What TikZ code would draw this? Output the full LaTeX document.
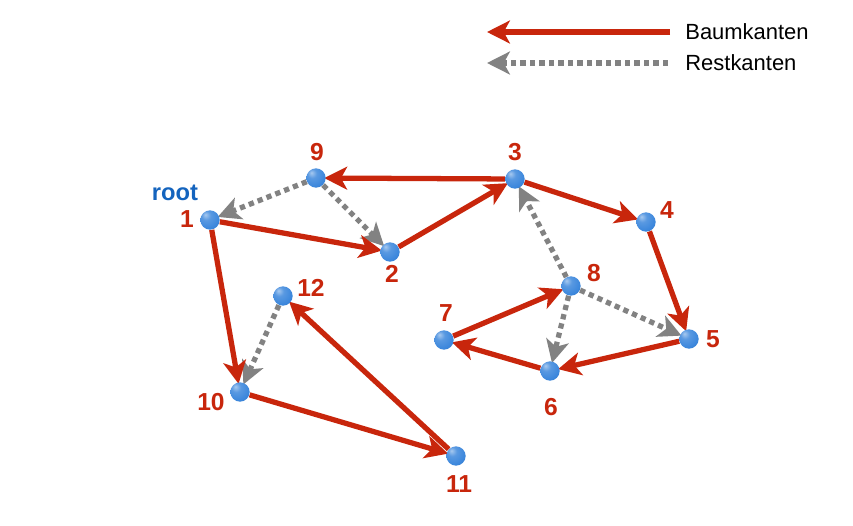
\documentclass[tikz,border=0pt]{standalone}
\usepackage{fontspec}
\setmainfont{Liberation Sans}
\usetikzlibrary{arrows.meta}
\definecolor{tree}{RGB}{200,38,12}
\definecolor{rest}{RGB}{130,130,130}
\definecolor{lbl}{RGB}{200,38,12}
\definecolor{rootc}{RGB}{20,100,190}
\definecolor{ballc}{RGB}{60,135,220}
\pgfdeclareradialshading{blueball}{\pgfpoint{-12bp}{14bp}}{%
  color(0bp)=(white!55!ballc); color(12bp)=(white!15!ballc); color(30bp)=(ballc);
  color(50bp)=(ballc!80!black); color(75bp)=(ballc!65!black)}
\tikzset{
  vert/.style={circle, inner sep=0pt, minimum size=11pt},
  treeedge/.style={draw=tree, line width=3pt, -{Stealth[length=13pt,width=13pt,inset=3.5pt]}, shorten >=-1pt},
  restedge/.style={draw=rest, line width=3pt, dash pattern=on 3pt off 2.4pt, -{Stealth[length=13pt,width=13pt,inset=3.5pt]}, shorten >=-1pt},
  num/.style={text=lbl, font=\fontsize{14}{16}\selectfont\bfseries, inner sep=0pt},
  legend/.style={font=\fontsize{12.5}{15}\selectfont, anchor=west, inner sep=0pt}
}
\begin{document}
\begin{tikzpicture}[x=0.02cm,y=-0.02cm]
\useasboundingbox (0,0) rectangle (853,525);
% vertices
\node[vert] (n1) at (210,220) {};
\node[vert] (n2) at (390,252) {};
\node[vert] (n3) at (515,179) {};
\node[vert] (n4) at (646,222) {};
\node[vert] (n5) at (689,339) {};
\node[vert] (n6) at (550,371) {};
\node[vert] (n7) at (444,340) {};
\node[vert] (n8) at (571,286) {};
\node[vert] (n9) at (316,178) {};
\node[vert] (n10) at (240,392) {};
\node[vert] (n11) at (456,456) {};
\node[vert] (n12) at (283,296) {};
% labels
\node[num] (l1) at (187,219) {1};
\node[num] (l2) at (392,274) {2};
\node[num] (l3) at (515,152) {3};
\node[num] (l4) at (667,210) {4};
\node[num] (l5) at (713,339) {5};
\node[num] (l6) at (551,407) {6};
\node[num] (l7) at (446,313) {7};
\node[num] (l8) at (594,273) {8};
\node[num] (l9) at (317,152) {9};
\node[num] (l10) at (211,402) {10};
\node[num] (l11) at (459,484) {11};
\node[num] (l12) at (311,288) {12};
\node[text=rootc, font=\fontsize{13.5}{16}\selectfont\bfseries, inner sep=0pt] (root) at (175,193) {root};
% rest edges
\draw[restedge] (n9) -- (n1);
\draw[restedge] (n9) -- (n2);
\draw[restedge] (n8) -- (n3);
\draw[restedge] (n8) -- (n6);
\draw[restedge] (n8) -- (n5);
\draw[restedge] (n12) -- (n10);
% tree edges
\draw[treeedge] (n3) -- (n9);
\draw[treeedge] (n1) -- (n2);
\draw[treeedge] (n2) -- (n3);
\draw[treeedge] (n3) -- (n4);
\draw[treeedge] (n4) -- (n5);
\draw[treeedge] (n5) -- (n6);
\draw[treeedge] (n6) -- (n7);
\draw[treeedge] (n7) -- (n8);
\draw[treeedge] (n1) -- (n10);
\draw[treeedge] (n10) -- (n11);
\draw[treeedge] (n11) -- (n12);
% vertices drawn on top
\foreach \v in {n1,n2,n3,n4,n5,n6,n7,n8,n9,n10,n11,n12}
  \shade[shading=blueball] (\v.center) circle (5.5pt);
% legend
\coordinate (a1s) at (670,32);
\coordinate (a1e) at (487,32);
\coordinate (a2s) at (668,63);
\coordinate (a2e) at (487,63);
\draw[treeedge, line width=3.4pt, shorten >=0pt] (a1s) -- (a1e);
\draw[restedge, line width=3.4pt, shorten >=0pt] (a2s) -- (a2e);
\node[legend] (t1) at (685,32) {Baumkanten};
\node[legend] (t2) at (685,63) {Restkanten};
\end{tikzpicture}
\end{document}
